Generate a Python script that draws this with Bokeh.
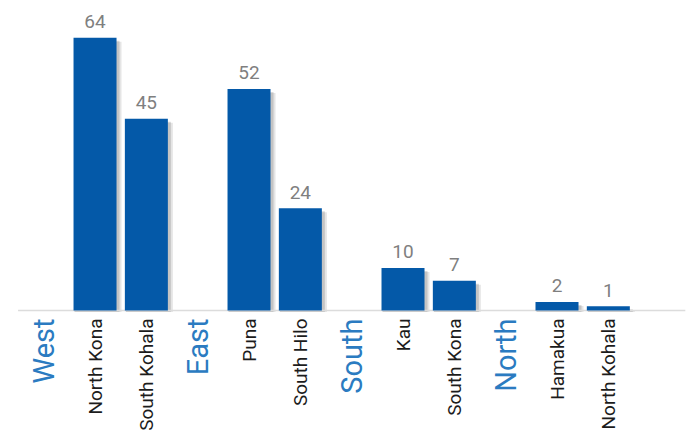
import math
from bokeh.plotting import figure
from bokeh.models import ColumnDataSource, Range1d
from bokeh.core.properties import value
from bokeh.embed import file_html
from bokeh.resources import INLINE

# ---- data ----
categories = ["West", "North Kona", "South Kohala", "East", "Puna", "South Hilo",
              "South", "Kau", "South Kona", "North", "Hamakua", "North Kohala"]
is_group = [True, False, False, True, False, False, True, False, False, True, False, False]
counts = [None, 64, 45, None, 52, 24, None, 10, 7, None, 2, 1]

BAR_COLOR = "#0459a8"
GROUP_COLOR = "#2b7bc1"
FONT = "Roboto"

W, H = 686, 433
SLOT_PX = 51.33
Y_PX = 4.26
BASE_PX = 310
x_start = -43.2 / SLOT_PX
x_end = x_start + W / SLOT_PX
y_end = BASE_PX / Y_PX
y_start = -(H - BASE_PX) / Y_PX

p = figure(width=W, height=H, output_backend="svg", toolbar_location=None,
           x_range=Range1d(x_start, x_end), y_range=Range1d(y_start, y_end),
           min_border=0, outline_line_color=None, background_fill_color="white",
           border_fill_color="white")
p.xaxis.visible = False
p.yaxis.visible = False
p.grid.visible = False

xs = list(range(len(categories)))
bar_x = [x for x, v in zip(xs, counts) if v is not None]
bar_v = [v for v in counts if v is not None]
bar_w = 43 / SLOT_PX
px_x = 1 / SLOT_PX
px_y = 1 / Y_PX

# shadows (soft, two layers)
for dx0, dx1, dy, a in [(1, 5, 4, 0.10), (1, 3, 3, 0.14)]:
    p.quad(left=[x - bar_w / 2 + dx0 * px_x for x in bar_x],
           right=[x + bar_w / 2 + dx1 * px_x for x in bar_x],
           top=[max(v - dy * px_y, 0) for v in bar_v],
           bottom=[-1.5 * px_y] * len(bar_x),
           fill_color="black", fill_alpha=a, line_color=None)

# baseline
p.segment(x0=[-0.5], y0=[0], x1=[len(categories) + 0.5], y1=[0],
          line_color="#dcdcdc", line_width=1.5)

src = ColumnDataSource(dict(x=bar_x, top=bar_v, lab=[str(v) for v in bar_v]))
p.vbar(x="x", top="top", bottom=0, width=bar_w, source=src,
       fill_color=BAR_COLOR, line_color=None)

p.text(x="x", y="top", text="lab", source=src, text_align="center",
       text_baseline="alphabetic", y_offset=-16, text_color="#7f7f7f",
       text_font=value(FONT), text_font_size="19px")

# category labels
dist_x = [x for x, g in zip(xs, is_group) if not g]
dist_t = [c for c, g in zip(categories, is_group) if not g]
grp_x = [x for x, g in zip(xs, is_group) if g]
grp_t = [c for c, g in zip(categories, is_group) if g]

p.text(x=dist_x, y=[0] * len(dist_x), text=dist_t, angle=math.pi / 2,
       text_align="right", text_baseline="middle", y_offset=8,
       text_color="#1c1c1c", text_font=value(FONT), text_font_size="19px")
p.text(x=grp_x, y=[0] * len(grp_x), text=grp_t, angle=math.pi / 2,
       text_align="right", text_baseline="middle", y_offset=8,
       text_color=GROUP_COLOR, text_font=value(FONT), text_font_size="29px")

open("out.html", "w").write(file_html(p, INLINE))
